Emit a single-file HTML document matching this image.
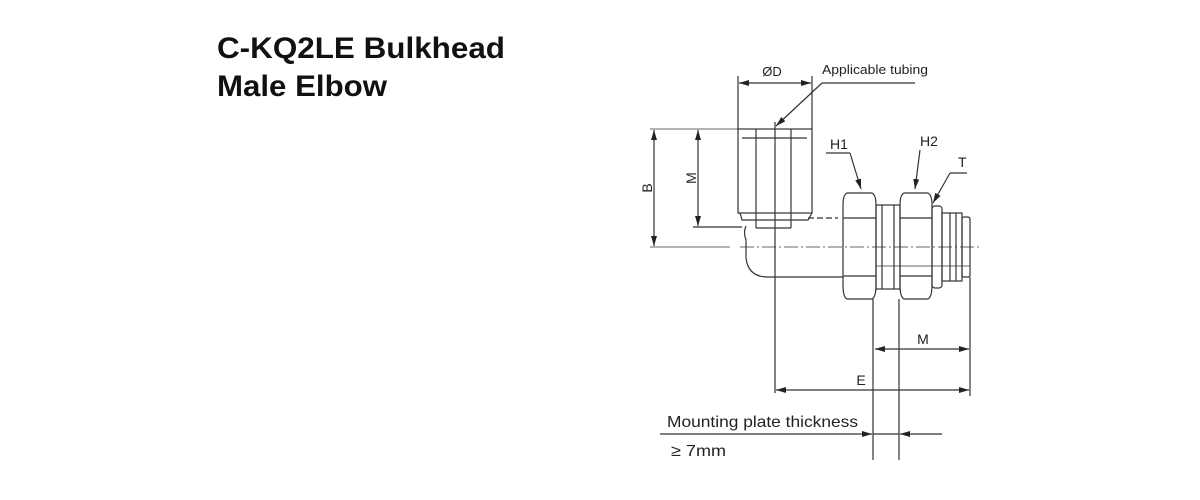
<!DOCTYPE html>
<html><head><meta charset="utf-8"><style>
html,body{margin:0;padding:0;background:#fff;width:1200px;height:500px;overflow:hidden}
svg{position:absolute;left:0;top:0}
</style></head><body>
<svg width="1200" height="500" viewBox="0 0 1200 500" xmlns="http://www.w3.org/2000/svg" font-family="Liberation Sans, Arial, sans-serif">
<defs>
<marker id="a" viewBox="0 0 10 6" refX="10" refY="3" markerWidth="10" markerHeight="6" orient="auto-start-reverse" markerUnits="userSpaceOnUse"><path d="M0,0 L10,3 L0,6z" fill="#222"/></marker>
</defs>
<text x="217" y="58" font-size="30" font-weight="bold" fill="#111" textLength="288" lengthAdjust="spacingAndGlyphs">C-KQ2LE Bulkhead</text>
<text x="217" y="96" font-size="30" font-weight="bold" fill="#111" textLength="170" lengthAdjust="spacingAndGlyphs">Male Elbow</text>

<g stroke="#333" stroke-width="1.2" fill="none">
<line x1="738" y1="76" x2="738" y2="129"/><line x1="812" y1="76" x2="812" y2="129"/>
<line x1="739" y1="83" x2="811" y2="83" marker-start="url(#a)" marker-end="url(#a)"/>
<line x1="822" y1="83" x2="915" y2="83"/>
<line x1="822" y1="83" x2="776" y2="126" marker-end="url(#a)"/>
<rect x="738" y="129" width="74" height="84"/>
<line x1="742" y1="138" x2="807" y2="138"/>
<line x1="756" y1="129" x2="756" y2="228"/><line x1="791" y1="129" x2="791" y2="228"/>
<path d="M740 213 L742 220 L808 220 L812 213"/>
<line x1="756" y1="228" x2="791" y2="228"/>
<line x1="775" y1="122" x2="775" y2="393"/>
<line x1="650" y1="129" x2="740" y2="129" stroke-width="0.8"/>
<line x1="654" y1="130" x2="654" y2="246" marker-start="url(#a)" marker-end="url(#a)"/>
<line x1="698" y1="130" x2="698" y2="226" marker-start="url(#a)" marker-end="url(#a)"/>
<line x1="693" y1="227" x2="742" y2="227"/>
<line x1="650" y1="247" x2="730" y2="247" stroke-width="0.8"/>
<line x1="740" y1="247" x2="980" y2="247" stroke-width="0.8" stroke-dasharray="14 3 2 3"/>
<path d="M746 226 Q743 232 746 240 L746 258 Q748 276 766 277 L843 277"/>
<path d="M808 218 L838 218" stroke-dasharray="6 3"/>
<path d="M847 193 L872 193 Q876 195 876 205 L876 285 Q876 297 872 299 L847 299 Q843 297 843 285 L843 205 Q843 195 847 193Z"/>
<line x1="843" y1="218" x2="876" y2="218"/><line x1="843" y1="276" x2="876" y2="276"/>
<rect x="876" y="205" width="24" height="84"/>
<line x1="882" y1="205" x2="882" y2="289"/><line x1="894" y1="205" x2="894" y2="289"/>
<path d="M904 193 L928 193 Q932 195 932 205 L932 285 Q932 297 928 299 L904 299 Q900 297 900 285 L900 205 Q900 195 904 193Z"/>
<line x1="900" y1="218" x2="932" y2="218"/><line x1="900" y1="276" x2="932" y2="276"/>
<rect x="932" y="206" width="10" height="82" rx="3"/>
<rect x="942" y="213" width="20" height="68"/>
<line x1="950" y1="213" x2="950" y2="281"/><line x1="956" y1="213" x2="956" y2="281"/>
<rect x="962" y="217" width="8" height="60" rx="2"/>
<line x1="876" y1="266" x2="970" y2="266" stroke-width="0.8"/>
<line x1="873" y1="299" x2="873" y2="460"/><line x1="899" y1="299" x2="899" y2="460"/>
<line x1="970" y1="277" x2="970" y2="396"/>
<line x1="875" y1="349" x2="969" y2="349" marker-start="url(#a)" marker-end="url(#a)"/>
<line x1="776" y1="390" x2="969" y2="390" marker-start="url(#a)" marker-end="url(#a)"/>
<line x1="660" y1="434" x2="872" y2="434" marker-end="url(#a)"/>
<line x1="873" y1="434" x2="899" y2="434"/>
<line x1="942" y1="434" x2="900" y2="434" marker-end="url(#a)"/>
<line x1="826" y1="153" x2="850" y2="153"/><line x1="850" y1="153" x2="861" y2="189" marker-end="url(#a)"/>
<line x1="920" y1="150" x2="915" y2="189" marker-end="url(#a)"/>
<line x1="967" y1="173" x2="950" y2="173"/><line x1="950" y1="173" x2="933" y2="203" marker-end="url(#a)"/>
</g>
<g fill="#222" font-size="13">
<text x="772" y="76" text-anchor="middle">ØD</text>
<text x="822" y="74" font-size="12.5" textLength="106" lengthAdjust="spacingAndGlyphs">Applicable tubing</text>
<text x="830" y="149" font-size="14">H1</text>
<text x="920" y="146" font-size="14">H2</text>
<text x="958" y="167" font-size="14">T</text>
<text x="652" y="188" transform="rotate(-90 652 188)" text-anchor="middle" font-size="14">B</text>
<text x="696" y="178" transform="rotate(-90 696 178)" text-anchor="middle" font-size="14">M</text>
<text x="923" y="344" text-anchor="middle" font-size="14">M</text>
<text x="861" y="385" text-anchor="middle" font-size="14">E</text>
<text x="667" y="427" font-size="16" textLength="191" lengthAdjust="spacingAndGlyphs">Mounting plate thickness</text>
<text x="671" y="456" font-size="16" textLength="55" lengthAdjust="spacingAndGlyphs">≥ 7mm</text>
</g>
</svg>
</body></html>
